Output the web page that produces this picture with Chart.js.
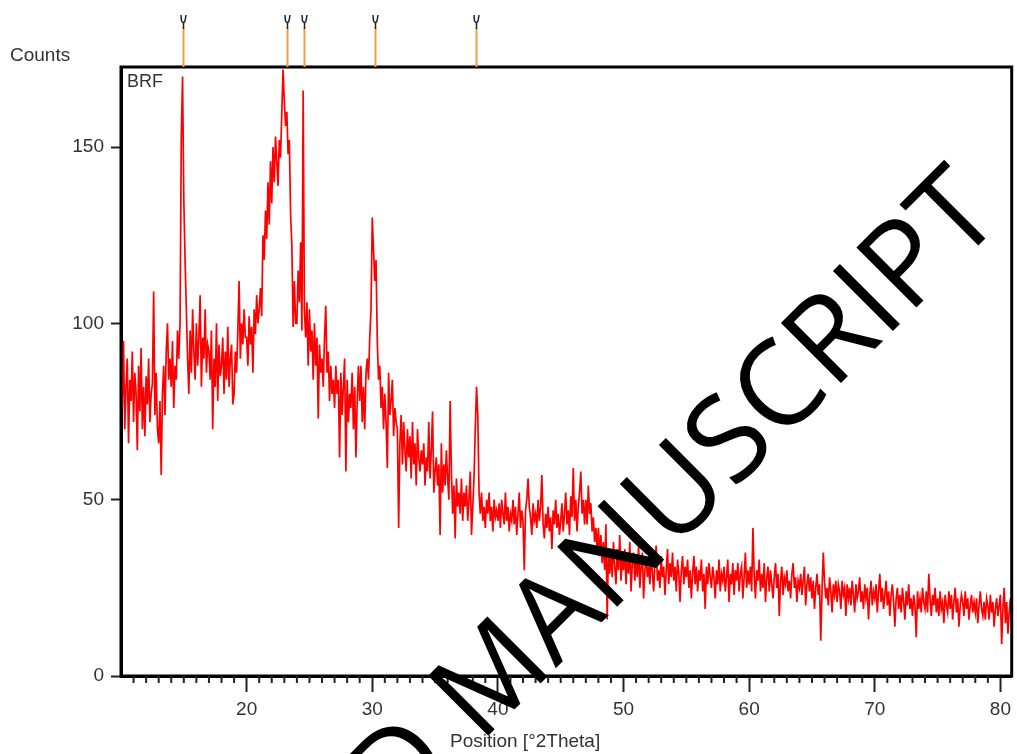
<!DOCTYPE html>
<html>
<head>
<meta charset="utf-8">
<title>BRF XRD</title>
<script src="https://cdn.jsdelivr.net/npm/chart.js@4.4.1/dist/chart.umd.min.js"></script>
<style>
  html, body { margin: 0; padding: 0; background: #fff; }
  #wrap { width: 1017px; height: 754px; position: relative; }
</style>
</head>
<body>
<div id="wrap"><canvas id="xrd"></canvas></div>
<script>
// scan settings, °2Theta
const scanStart = 10;
const scanStep = 0.1;

// counts, one row per degree (x.0 .. x.9)
const countsBRF = [
  88, 76, 95, 70, 82, 90, 66, 84, 78, 92,      // 10
  72, 86, 80, 64, 88, 75, 93, 70, 82, 68,      // 11
  85, 77, 90, 72, 80, 83, 109, 74, 86, 70,     // 12
  66, 78, 57, 80, 88, 74, 92, 100, 84, 90,     // 13
  82, 95, 76, 88, 84, 98, 90, 100, 153, 170,   // 14
  135, 118, 104, 90, 80, 98, 86, 104, 92, 84,  // 15
  100, 88, 96, 108, 82, 96, 90, 104, 86, 94,   // 16
  92, 84, 98, 70, 90, 82, 100, 78, 94, 85,     // 17
  88, 96, 80, 92, 84, 99, 82, 90, 94, 77,      // 18
  80, 92, 86, 98, 112, 90, 100, 94, 104, 96,   // 19
  96, 88, 102, 94, 99, 86, 104, 97, 108, 100,  // 20
  104, 110, 102, 125, 118, 132, 124, 140, 128, 146, // 21
  134, 150, 140, 153, 146, 139, 152, 147, 160, 172, // 22
  163, 156, 160, 148, 152, 131, 122, 99, 112, 100,  // 23
  100, 115, 106, 123, 98, 166, 104, 96, 106, 88,    // 24
  104, 92, 98, 84, 100, 88, 96, 73, 94, 86,    // 25
  90, 82, 96, 105, 86, 92, 78, 88, 80, 84,     // 26
  76, 88, 80, 84, 62, 86, 74, 82, 90, 58,      // 27
  84, 72, 80, 76, 86, 70, 82, 62, 78, 88,      // 28
  78, 88, 72, 82, 70, 86, 90, 84, 96, 104,     // 29
  130, 121, 112, 118, 95, 84, 88, 76, 82, 70,  // 30
  80, 72, 59, 86, 74, 78, 84, 68, 76, 72,      // 31
  70, 42, 66, 74, 60, 72, 64, 58, 70, 62,      // 32
  68, 56, 72, 60, 66, 54, 70, 62, 58, 64,      // 33
  60, 66, 54, 62, 58, 72, 56, 64, 75, 52,      // 34
  58, 62, 54, 60, 40, 66, 52, 60, 54, 64,      // 35
  56, 50, 78, 58, 46, 54, 39, 56, 48, 52,      // 36
  46, 56, 44, 52, 48, 54, 44, 50, 58, 40,      // 37
  48, 56, 70, 82, 74, 52, 46, 52, 44, 48,      // 38
  42, 50, 46, 52, 44, 48, 41, 50, 45, 47,      // 39
  44, 49, 42, 50, 46, 43, 52, 44, 48, 41,      // 40
  46, 44, 50, 43, 48, 40, 46, 52, 42, 47,      // 41
  44, 30, 47, 50, 56, 48, 45, 40, 49, 44,      // 42
  46, 42, 50, 44, 48, 57, 43, 39, 46, 42,      // 43
  48, 41, 45, 36, 47, 43, 50, 42, 46, 40,      // 44
  44, 49, 41, 46, 52, 43, 47, 40, 51, 45,      // 45
  59, 44, 50, 41, 48, 52, 58, 46, 50, 43,      // 46
  50, 43, 54, 46, 49, 41, 45, 38, 42, 36,      // 47
  42, 34, 40, 32, 38, 30, 43, 16, 36, 29,      // 48
  35, 28, 38, 31, 26, 36, 30, 40, 27, 33,      // 49
  30, 36, 26, 34, 29, 38, 24, 32, 35, 27,      // 50
  33, 28, 37, 25, 31, 35, 22, 30, 34, 28,      // 51
  31, 26, 35, 29, 24, 33, 37, 27, 30, 25,      // 52
  34, 28, 31, 23, 30, 36, 26, 32, 28, 35,      // 53
  27, 31, 24, 33, 29, 21, 30, 34, 26, 31,      // 54
  28, 33, 25, 30, 22, 29, 34, 26, 31, 24,      // 55
  30, 27, 33, 24, 29, 19, 31, 26, 32, 28,      // 56
  25, 31, 28, 22, 30, 26, 33, 24, 29, 27,      // 57
  31, 24, 28, 33, 21, 29, 26, 32, 23, 30,      // 58
  27, 32, 24, 29, 31, 22, 28, 35, 25, 30,      // 59
  26, 31, 24, 42, 29, 22, 30, 27, 33, 24,      // 60
  29, 25, 32, 21, 28, 31, 24, 30, 26, 22,      // 61
  28, 32, 25, 29, 17, 27, 31, 23, 28, 26,      // 62
  30, 24, 27, 22, 29, 32, 25, 28, 21, 27,      // 63
  25, 29, 23, 27, 31, 20, 26, 29, 24, 28,      // 64
  22, 27, 19, 25, 29, 23, 26, 10, 24, 35,      // 65
  27, 22, 25, 20, 28, 24, 18, 26, 23, 27,      // 66
  21, 26, 24, 19, 27, 23, 25, 17, 26, 22,      // 67
  25, 20, 27, 23, 18, 26, 22, 24, 28, 21,      // 68
  24, 19, 26, 22, 25, 16, 23, 27, 20, 24,      // 69
  22, 26, 18, 24, 29, 21, 25, 19, 23, 27,      // 70
  20, 24, 17, 23, 26, 21, 14, 22, 25, 19,      // 71
  23, 18, 25, 21, 16, 24, 20, 26, 19, 22,      // 72
  17, 23, 20, 11, 24, 19, 22, 18, 25, 21,      // 73
  19, 24, 18, 29, 22, 17, 23, 20, 25, 18,      // 74
  22, 17, 24, 19, 21, 15, 23, 20, 18, 24,      // 75
  19, 23, 16, 21, 25, 18, 22, 14, 20, 23,      // 76
  21, 17, 24, 19, 22, 16, 20, 23, 18, 21,      // 77
  18, 22, 15, 20, 24, 19, 17, 21, 16, 22,      // 78
  20, 16, 23, 18, 21, 14, 19, 22, 17, 20,      // 79
  23, 9, 19, 25, 15, 21, 12, 18, 22, 16        // 80
];

// reference peak markers above the frame
const peakPositions = [14.9, 23.2, 24.55, 30.25, 38.25];

// axis ticks
const xMajorTicks = [20, 30, 40, 50, 60, 70, 80];
const yTicks = [0, 50, 100, 150];

const points = countsBRF.map((c, i) => ({ x: +(scanStart + i * scanStep).toFixed(2), y: c }));

const labelFont = 'Liberation Sans';

const decorations = {
    id: 'decorations',
    afterDraw(chart) {
        const ctx = chart.ctx;
        const a = chart.chartArea;
        const x = chart.scales.x;
        ctx.save();

        // frame
        ctx.strokeStyle = '#000';
        ctx.lineWidth = 3;
        ctx.strokeRect(a.left, a.top, a.right - a.left, a.bottom - a.top);

        // minor ticks every degree
        ctx.strokeStyle = '#222';
        ctx.lineWidth = 2;
        for (let v = Math.ceil(x.min); v <= x.max; v++) {
            if (v % 10 === 0) continue;
            const px = x.getPixelForValue(v);
            ctx.beginPath();
            ctx.moveTo(px, a.bottom);
            ctx.lineTo(px, a.bottom + 7);
            ctx.stroke();
        }

        // peak markers
        peakPositions.forEach(p => {
            const px = Math.round(x.getPixelForValue(p)) + 0.5;
            ctx.strokeStyle = '#f0a040';
            ctx.lineWidth = 2;
            ctx.beginPath();
            ctx.moveTo(px, 28);
            ctx.lineTo(px, a.top);
            ctx.stroke();
            ctx.strokeStyle = '#222';
            ctx.lineWidth = 1.5;
            ctx.beginPath();
            ctx.moveTo(px - 2.5, 15);
            ctx.lineTo(px - 2, 21);
            ctx.lineTo(px, 23);
            ctx.moveTo(px + 2.5, 15);
            ctx.lineTo(px + 1.5, 21);
            ctx.lineTo(px, 23);
            ctx.lineTo(px, 29);
            ctx.stroke();
        });

        // labels
        ctx.fillStyle = '#333';
        ctx.font = '19px "' + labelFont + '"';
        ctx.textAlign = 'left';
        ctx.textBaseline = 'alphabetic';
        ctx.fillText('Counts', 10, 61);
        ctx.fillText('Position [°2Theta]', 450, 747);
        ctx.font = '18px "' + labelFont + '"';
        ctx.fillText('BRF', 127, 87);

        // watermark
        ctx.fillStyle = '#000';
        ctx.font = '119px "Open Sans"';
        ctx.translate(480, 744);
        ctx.rotate(-Math.PI / 4);
        ctx.textAlign = 'right';
        ctx.fillText('ACCEPTED ', 0, 0);
        ctx.textAlign = 'left';
        ctx.fillText('MANUSCRIPT', 0, 0);

        ctx.restore();
    }
};

new Chart(document.getElementById('xrd').getContext('2d'), {
    type: 'line',
    data: {
        datasets: [{
            label: 'BRF',
            data: points,
            borderColor: '#ff0000',
            borderWidth: 1.7,
            pointRadius: 0,
            tension: 0,
            fill: false
        }]
    },
    options: {
        responsive: true,
        maintainAspectRatio: false,
        animation: false,
        layout: { padding: { top: 67, right: 2, left: 0, bottom: 0 } },
        plugins: {
            legend: { display: false },
            tooltip: { enabled: false }
        },
        scales: {
            x: {
                type: 'linear',
                min: 10,
                max: 80.9,
                afterBuildTicks: s => { s.ticks = xMajorTicks.map(v => ({ value: v })); },
                afterFit: s => { s.height = 78; },
                border: { display: true, color: '#000', width: 3 },
                grid: { drawOnChartArea: false, drawTicks: true, tickLength: 16, tickWidth: 2, tickColor: '#222' },
                ticks: { color: '#333', padding: 6, maxRotation: 0, font: { family: labelFont, size: 19 } }
            },
            y: {
                min: 0,
                max: 172.7,
                afterBuildTicks: s => { s.ticks = yTicks.map(v => ({ value: v })); },
                afterFit: s => { s.width = 121; },
                border: { display: true, color: '#000', width: 3 },
                grid: { drawOnChartArea: false, drawTicks: true, tickLength: 10, tickWidth: 2, tickColor: '#222' },
                ticks: { color: '#333', padding: 7, font: { family: labelFont, size: 19 } }
            }
        }
    },
    plugins: [decorations]
});
</script>
</body>
</html>
